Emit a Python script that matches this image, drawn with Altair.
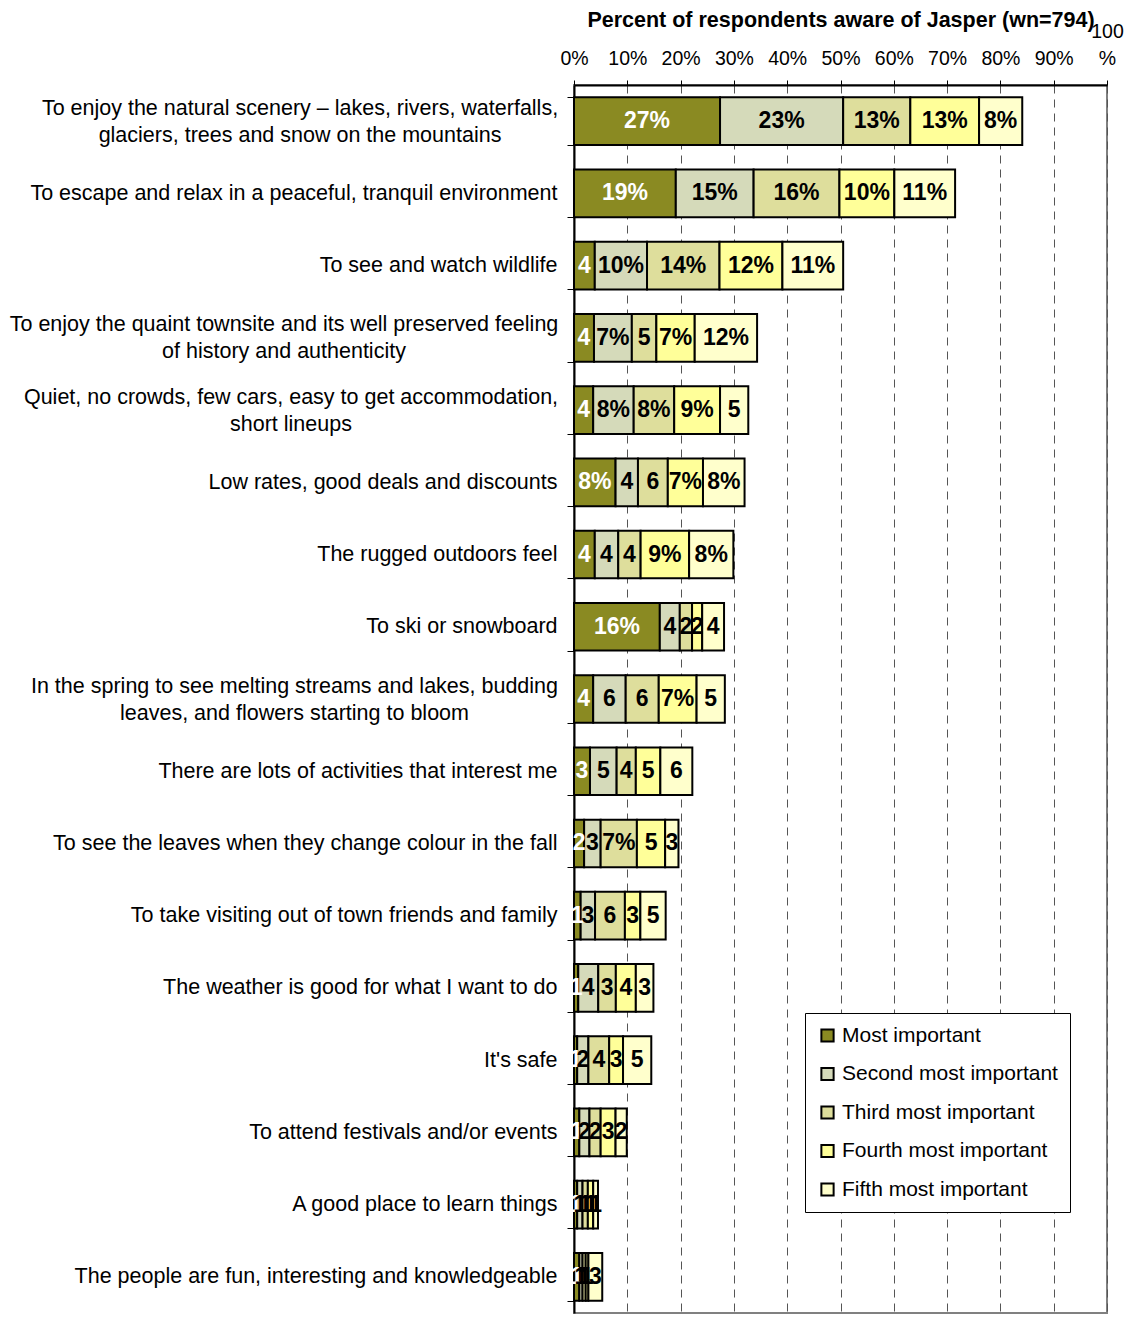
import altair as alt
import pandas as pd

reasons = [
    "To enjoy the natural scenery – lakes, rivers, waterfalls,|glaciers, trees and snow on the mountains",
    "To escape and relax in a peaceful, tranquil environment",
    "To see and watch wildlife",
    "To enjoy the quaint townsite and its well preserved feeling|of history and authenticity",
    "Quiet, no crowds, few cars, easy to get accommodation,|short lineups",
    "Low rates, good deals and discounts",
    "The rugged outdoors feel",
    "To ski or snowboard",
    "In the spring to see melting streams and lakes, budding|leaves, and flowers starting to bloom",
    "There are lots of activities that interest me",
    "To see the leaves when they change colour in the fall",
    "To take visiting out of town friends and family",
    "The weather is good for what I want to do",
    "It's safe",
    "To attend festivals and/or events",
    "A good place to learn things",
    "The people are fun, interesting and knowledgeable",
]

ranks = ["Most important", "Second most important", "Third most important",
         "Fourth most important", "Fifth most important"]
colors = ["#8A8A22", "#D5DABA", "#DEDE9C", "#FFFF99", "#FFFFCC"]

most =   [27.4, 19.1, 3.9, 3.75, 3.6, 7.8, 3.9, 16.1, 3.6, 3.0, 1.9, 1.25, 0.8, 0.6, 1.0, 0.6, 1.0]
second = [23.1, 14.6, 9.8, 7.1, 7.6, 4.2, 4.4, 3.75, 6.1, 5.0, 3.1, 2.7, 3.75, 2.1, 1.9, 1.0, 0.6]
third =  [12.6, 16.1, 13.6, 4.6, 7.6, 5.6, 4.2, 2.3, 6.2, 3.6, 6.8, 5.6, 3.3, 3.9, 2.1, 1.0, 0.6]
fourth = [12.9, 10.3, 11.8, 7.2, 8.6, 6.6, 9.1, 1.9, 7.1, 4.6, 5.3, 2.9, 3.75, 2.6, 2.8, 1.0, 0.5]
fifth =  [8.1, 11.4, 11.4, 11.7, 5.3, 7.8, 8.3, 4.1, 5.3, 6.0, 2.5, 4.75, 3.3, 5.3, 2.1, 0.9, 2.6]

x_ticks = [0, 10, 20, 30, 40, 50, 60, 70, 80, 90, 100]

series = [most, second, third, fourth, fifth]
rows = []
for ri, (rname, vals) in enumerate(zip(ranks, series)):
    for reason, v in zip(reasons, vals):
        rows.append({"reason": reason, "rank": rname, "order": ri + 1, "value": v})
df = pd.DataFrame(rows)

base = alt.Chart(df).transform_stack(
    stack="value", as_=["x0", "x1"], groupby=["reason"],
    sort=[alt.SortField("order", order="ascending")]
)

FONT = "Liberation Sans"

# two-line labels are centred on their first line, block right-aligned
multi_pad = [
    ("indexof(datum.label, 'To enjoy the natural') == 0", 267.5),
    ("indexof(datum.label, 'To enjoy the quaint') == 0", 283.5),
    ("indexof(datum.label, 'Quiet') == 0", 276.5),
    ("indexof(datum.label, 'In the spring') == 0", 273),
]

y_enc = alt.Y(
    "reason:N", sort=reasons, title=None,
    scale=alt.Scale(paddingInner=0.34, paddingOuter=0.17),
    axis=alt.Axis(
        labelExpr="split(datum.label, '|')", labelFontSize=21.5, labelLimit=0,
        labelLineHeight=27, labelColor="black", labelFont=FONT,
        labelOffset={"condition": {"test": "indexof(datum.label, '|') >= 0", "value": -13}, "value": 0},
        labelAlign={"condition": {"test": "indexof(datum.label, '|') >= 0", "value": "center"}, "value": "right"},
        labelPadding={"condition": [{"test": t, "value": v} for t, v in multi_pad], "value": 10},
        tickBand="extent", tickSize=7, tickColor="black",
        domainColor="black", domainWidth=2, grid=False,
    ),
)

bars = base.mark_bar(stroke="black", strokeWidth=2).encode(
    x=alt.X(
        "x0:Q", title="Percent of respondents aware of Jasper (wn=794)",
        scale=alt.Scale(domain=[0, 100], nice=False),
        axis=alt.Axis(
            orient="top", values=x_ticks,
            labelExpr="datum.value == 100 ? ['100', '%'] : datum.value + '%'",
            labelFontSize=19.5, labelFont=FONT, labelColor="black",
            labelLineHeight=27, labelFlush=False, labelOverlap=False,
            labelPadding={"condition": {"test": "datum.value == 100", "value": 39}, "value": 12},
            tickSize=5, tickColor="black",
            domainColor="black", domainWidth=2,
            grid=True, gridDash=[8, 6], gridColor="#555555", gridWidth=1,
            titleFontSize=21.5, titleFont=FONT, titleFontWeight="bold",
            titleColor="black", titleY=-65, titleBaseline="middle",
        ),
    ),
    x2="x1:Q",
    y=y_enc,
    color=alt.Color(
        "rank:N", scale=alt.Scale(domain=ranks, range=colors),
        legend=alt.Legend(
            title=None, orient="none", legendX=231, legendY=928,
            fillColor="white", strokeColor="black", padding=12,
            symbolType="square", symbolSize=150, symbolStrokeColor="black",
            symbolStrokeWidth=2, labelFontSize=21, labelFont=FONT,
            labelColor="black", rowPadding=16.5, labelLimit=0, labelOffset=4,
        ),
    ),
)

labels = base.transform_calculate(
    mid="(datum.x0 + datum.x1) / 2",
    lab="round(datum.value) >= 7 ? round(datum.value) + '%' : '' + round(datum.value)",
).mark_text(fontSize=23, fontWeight="bold", font=FONT).encode(
    x="mid:Q",
    y=alt.Y("reason:N", sort=reasons),
    text="lab:N",
    color=alt.condition(alt.datum.order == 1, alt.value("white"), alt.value("black")),
)

chart = alt.layer(bars, labels).properties(
    width=533, height=1228,
    autosize=alt.AutoSizeParams(type="none"),
    padding={"left": 566, "top": 77, "right": 21, "bottom": 13},
    background="white",
).configure_view(stroke="#808080", strokeWidth=2)

chart.save("out.html", embed_options={"renderer": "svg", "actions": False})
